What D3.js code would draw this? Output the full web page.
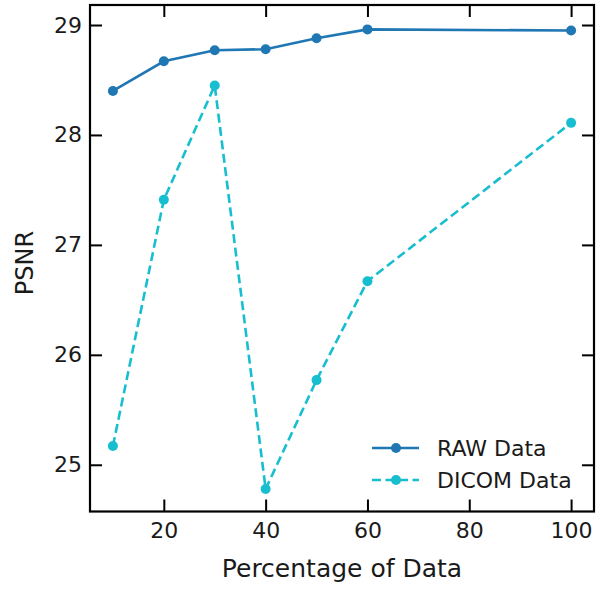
<!DOCTYPE html>
<html>
<head>
<meta charset="utf-8">
<script src="https://cdn.jsdelivr.net/npm/d3@7"></script>
<style>
  html, body { margin: 0; padding: 0; background: #fff; }
  svg { display: block; font-family: "DejaVu Sans", sans-serif; }
</style>
</head>
<body>
<svg id="chart" width="597" height="590"></svg>
<script>
// PSNR versus share of training data, for raw and DICOM inputs
const percentages = [10, 20, 30, 40, 50, 60, 100];
const rawPsnr   = [28.40, 28.67, 28.77, 28.78, 28.88, 28.96, 28.95];
const dicomPsnr = [25.17, 27.41, 28.45, 24.78, 25.77, 26.67, 28.11];
const xTicks = [20, 40, 60, 80, 100];
const yTicks = [25, 26, 27, 28, 29];
const seriesNames = ["RAW Data", "DICOM Data"];

const svg = d3.select("#chart");
const plotLeft = 90, plotRight = 594, plotTop = 5, plotBottom = 511.5;
const textColor = "#1a1a1a";

const x = d3.scaleLinear().domain([5.5, 104.5]).range([plotLeft, plotRight]);
const y = d3.scaleLinear().domain([24.575, 29.182]).range([plotBottom, plotTop]);

const tickLen = 12;
const fmt = d3.format("d");
const tickStyle = g => {
  g.select(".domain").remove();
  g.selectAll(".tick line").attr("stroke", "#000").attr("stroke-width", 2);
  g.selectAll(".tick text").attr("fill", textColor).attr("font-size", 22)
    .attr("font-family", "DejaVu Sans, sans-serif");
};

// bottom axis, ticks pointing inward
svg.append("g").attr("transform", `translate(0,${plotBottom})`)
  .call(d3.axisBottom(x).tickValues(xTicks).tickFormat(fmt).tickSizeInner(-tickLen).tickSizeOuter(0))
  .call(tickStyle)
  .call(g => g.selectAll(".tick text").attr("dy", "0.71em").attr("y", 11));
// top axis, ticks only
svg.append("g").attr("transform", `translate(0,${plotTop})`)
  .call(d3.axisTop(x).tickValues(xTicks).tickSizeInner(-tickLen).tickSizeOuter(0).tickFormat(""))
  .call(tickStyle);
// left axis
svg.append("g").attr("transform", `translate(${plotLeft},0)`)
  .call(d3.axisLeft(y).tickValues(yTicks).tickFormat(fmt).tickSizeInner(-tickLen).tickSizeOuter(0))
  .call(tickStyle)
  .call(g => g.selectAll(".tick text").attr("x", -8));
// right axis, ticks only
svg.append("g").attr("transform", `translate(${plotRight},0)`)
  .call(d3.axisRight(y).tickValues(yTicks).tickSizeInner(-tickLen).tickSizeOuter(0).tickFormat(""))
  .call(tickStyle);

// frame
svg.append("rect")
  .attr("x", plotLeft).attr("y", plotTop)
  .attr("width", plotRight - plotLeft).attr("height", plotBottom - plotTop)
  .attr("fill", "none").attr("stroke", "#000").attr("stroke-width", 2.2);

const series = [
  { name: seriesNames[0], values: rawPsnr, color: "#1f77b4", dash: null },
  { name: seriesNames[1], values: dicomPsnr, color: "#17becf", dash: "9,4.5" }
];

const line = d3.line().x(d => x(d[0])).y(d => y(d[1]));

series.forEach(s => {
  const pts = percentages.map((p, i) => [p, s.values[i]]);
  svg.append("path").datum(pts)
    .attr("d", line)
    .attr("fill", "none")
    .attr("stroke", s.color)
    .attr("stroke-width", 2.6)
    .attr("stroke-dasharray", s.dash);
  svg.append("g").selectAll("circle").data(pts).join("circle")
    .attr("cx", d => x(d[0])).attr("cy", d => y(d[1]))
    .attr("r", 5).attr("fill", s.color);
});

// axis titles
svg.append("text")
  .attr("x", 342).attr("y", 577)
  .attr("text-anchor", "middle").attr("font-size", 25).attr("fill", textColor)
  .text("Percentage of Data");
svg.append("text")
  .attr("transform", "translate(33,263) rotate(-90)")
  .attr("text-anchor", "middle").attr("font-size", 24).attr("fill", textColor)
  .text("PSNR");

// legend
const legend = svg.append("g");
series.forEach((s, i) => {
  const ly = 448 + i * 32;
  legend.append("line")
    .attr("x1", 372).attr("x2", 419).attr("y1", ly).attr("y2", ly)
    .attr("stroke", s.color).attr("stroke-width", 2.6)
    .attr("stroke-dasharray", s.dash);
  legend.append("circle").attr("cx", 396).attr("cy", ly).attr("r", 5).attr("fill", s.color);
  legend.append("text")
    .attr("x", 437).attr("y", ly).attr("dy", "0.36em")
    .attr("font-size", 22).attr("fill", textColor)
    .text(s.name);
});
</script>
</body>
</html>
